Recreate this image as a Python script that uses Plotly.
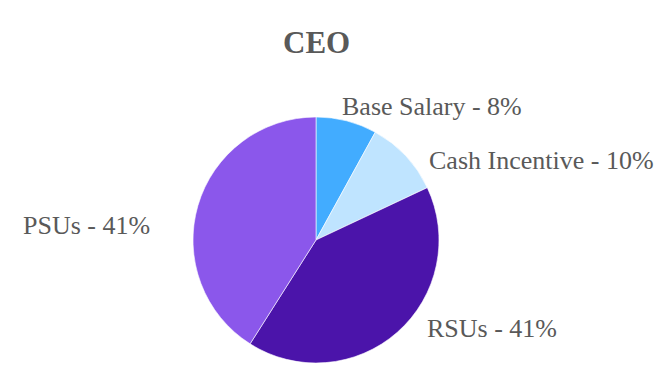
import plotly.graph_objects as go

# Data
labels = ["Base Salary", "Cash Incentive", "RSUs", "PSUs"]
values = [8, 10, 41, 41]
title_text = "CEO"

# Styles / layout
colors = ["#42acff", "#bfe4ff", "#4b14aa", "#8b57eb"]
W, H = 672, 384
cx, cy, r = 316, 240, 123
# label anchor positions in pixels (x, y-center, xanchor)
label_pos = [(340, 106, "left"), (427, 160, "left"), (425, 328, "left"), (152, 225, "right")]
font_fam = "Liberation Serif, Times New Roman, serif"
text_col = "#595959"

fig = go.Figure(go.Pie(
    labels=labels,
    values=values,
    sort=False,
    direction="clockwise",
    rotation=0,
    textinfo="none",
    hoverinfo="label+percent",
    marker=dict(colors=colors, line=dict(color="white", width=0.6)),
    domain=dict(x=[(cx - r) / W, (cx + r) / W], y=[(H - cy - r) / H, (H - cy + r) / H]),
    showlegend=False,
))

annotations = []
for lab, val, (px, py, xa) in zip(labels, values, label_pos):
    annotations.append(dict(
        text=f"{lab} - {val}%",
        x=px / W, y=1 - py / H, xref="paper", yref="paper",
        xanchor=xa, yanchor="middle", showarrow=False,
        font=dict(family=font_fam, size=26, color=text_col),
    ))
annotations.append(dict(
    text=f"<b>{title_text}</b>",
    x=cx / W, y=1 - 42 / H, xref="paper", yref="paper",
    xanchor="center", yanchor="middle", showarrow=False,
    font=dict(family=font_fam, size=31, color=text_col),
))

fig.update_layout(
    width=W, height=H,
    margin=dict(l=0, r=0, t=0, b=0),
    paper_bgcolor="white", plot_bgcolor="white",
    annotations=annotations,
)

fig.write_html("out.html", config={"displayModeBar": False},
               post_script="document.body.style.margin='0';")
